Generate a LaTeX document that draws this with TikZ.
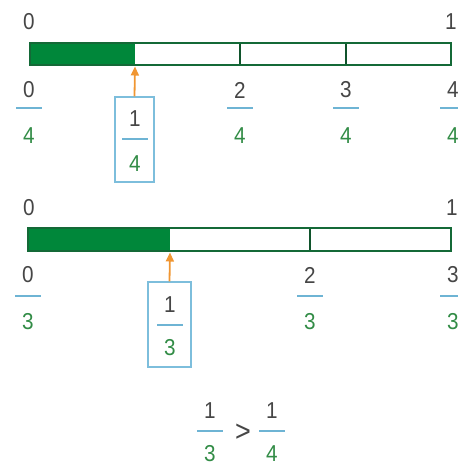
\documentclass[tikz,border=0pt]{standalone}
\usepackage{fontspec}
\setmainfont{Liberation Sans}
\usetikzlibrary{arrows.meta}
\definecolor{barfill}{RGB}{0,135,58}
\definecolor{barline}{RGB}{20,105,55}
\definecolor{fracline}{RGB}{110,180,212}
\definecolor{dengreen}{RGB}{50,140,70}
\definecolor{numgray}{RGB}{70,70,70}
\definecolor{boxblue}{RGB}{125,190,220}
\definecolor{arroworange}{RGB}{240,150,50}
\tikzset{
  num/.style={text=numgray, font=\fontsize{23}{23}\selectfont, inner sep=0pt, xscale=0.9},
  den/.style={text=dengreen, font=\fontsize{23}{23}\selectfont, inner sep=0pt, xscale=0.9},
  fline/.style={draw=fracline, line width=2.2pt},
  bar/.style={draw=barline, line width=2.6pt},
  barfilled/.style={fill=barfill},
  tick/.style={draw=barline!80!black, line width=1.1pt},
  fracbox/.style={draw=boxblue, line width=1.4pt, fill=none},
  pointer/.style={draw=arroworange, line width=1.8pt, -{Triangle[length=9pt,width=8pt]}},
}
% \frlab{x}{ynum}{yline}{yden}{num}{den}{name}
\newcommand{\frlab}[7]{%
  \node[num] (#7n) at (#1,#2) {#5};
  \node[den] (#7d) at (#1,#4) {#6};
  \draw[fline] (#1-13,#3) -- (#1+13,#3);
}
\begin{document}
\begin{tikzpicture}[x=1pt,y=-1pt]
\useasboundingbox (0,0) rectangle (458,467);
% ---------- top bar (quarters) ----------
\node[num] (ta0) at (29,22) {0};
\node[num] (ta1) at (451,22) {1};
\fill[barfilled] (30,43) rectangle (135,65);
\draw[tick] (240,43) -- (240,65);
\draw[tick] (346,43) -- (346,65);
\draw[bar] (30,43) rectangle (451,65);
\coordinate (tq) at (135,66.5);
\frlab{29}{90}{108}{136}{0}{4}{q0}
\frlab{240}{90}{108}{136}{2}{4}{q2}
\frlab{346}{90}{108}{136}{3}{4}{q3}
\frlab{453}{90}{108}{136}{4}{4}{q4}
\node[fracbox, minimum width=39pt, minimum height=85pt, inner sep=0pt] (qbox) at (134.5,139.5) {};
\frlab{135}{119}{139}{164}{1}{4}{q1}
\draw[pointer] (qbox.north) -- (tq);
% ---------- bottom bar (thirds) ----------
\node[num] (ba0) at (29,208) {0};
\node[num] (ba1) at (452,208) {1};
\fill[barfilled] (28,228) rectangle (170,251);
\draw[tick] (310,228) -- (310,251);
\draw[bar] (28,228) rectangle (451,251);
\coordinate (bt) at (170,252.5);
\frlab{28}{275}{296}{322}{0}{3}{t0}
\frlab{310}{275}{296}{322}{2}{3}{t2}
\frlab{453}{275}{296}{322}{3}{3}{t3}
\node[fracbox, minimum width=43pt, minimum height=85pt, inner sep=0pt] (tbox) at (169.5,324.5) {};
\frlab{170}{305}{325}{348}{1}{3}{t1}
\draw[pointer] (tbox.north) -- (bt);
% ---------- comparison ----------
\frlab{210}{411}{431}{454}{1}{3}{c1}
\node[num, font=\fontsize{30}{30}\selectfont] (gt) at (243,433) {>};
\frlab{272}{411}{431}{454}{1}{4}{c2}
\end{tikzpicture}
\end{document}
